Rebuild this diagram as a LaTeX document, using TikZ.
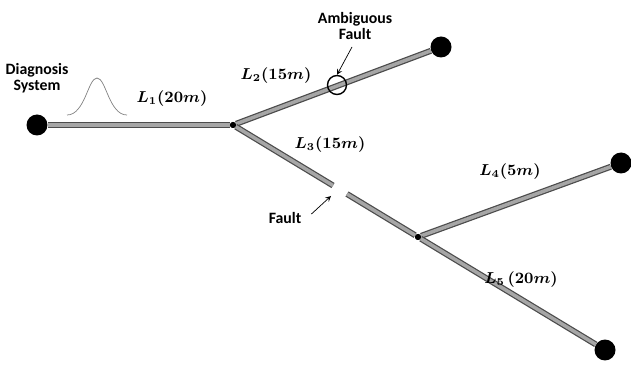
\documentclass[tikz,border=0pt]{standalone}
\usepackage{amsmath, amssymb}
\usepackage{bm}
\usepackage{fontspec}
\setsansfont{Carlito}
\usepackage{tikz}
\usetikzlibrary{quotes}

\begin{document}
\begin{tikzpicture}[x=0.02cm, y=-0.02cm,
    pipe/.style={draw=black!70, double=gray!70, line width=0.7pt, double distance=2pt},
    term/.style={circle, fill=black, inner sep=0pt, minimum size=0.42cm},
    joint/.style={circle, fill=black, inner sep=0pt, minimum size=0.12cm},
    lab/.style={font=\small},
    note/.style={font=\sffamily\bfseries\small, align=center}]

    \useasboundingbox (0,0) rectangle (631,367);

    \node[term]  (src) at (37, 125)   {};
    \node[joint] (j1)  at (233, 125)  {};
    \node[term]  (e2)  at (441, 47)   {};
    \node[joint] (j2)  at (418, 237)  {};
    \node[term]  (e4)  at (621, 163)  {};
    \node[term]  (e5)  at (605, 350)  {};

    \coordinate (gapa) at (333, 185.5);
    \coordinate (gapb) at (347, 194);

    \draw[pipe] (src) -- (j1);
    \draw[pipe] (j1) -- (e2);
    \draw[pipe] (j1) -- (gapa);
    \draw[pipe] (gapb) -- (j2);
    \draw[pipe] (j2) -- (e4);
    \draw[pipe] (j2) -- (e5);
    \node[joint] at (j1) {};
    \node[joint] at (j2) {};

    \node[circle, draw, thick, minimum size=0.38cm, inner sep=0pt] (amb) at (337, 85) {};

    \draw[gray, thin] (67, 115) .. controls (85, 115) and (88, 78) .. (97, 78)
                                .. controls (106, 78) and (109, 115) .. (127, 115);

    \node[note] (diag) at (37, 78)  {Diagnosis\\[-2pt]System};
    \node[note] (ambt) at (355, 26) {Ambiguous\\[-2pt]Fault};
    \node[note] (flt)  at (285, 218) {Fault};

    \draw[-stealth] (352, 47) -- (amb.north);
    \coordinate (fpt) at (331, 196);
    \draw[-stealth] (flt.east) ++(4, -4) -- (fpt);

    \node[lab] (l1) at (172, 99)  {$\bm{L_1(20m)}$};
    \node[lab] (l2) at (276, 76)  {$\bm{L_2(15m)}$};
    \node[lab] (l3) at (330, 145) {$\bm{L_3(15m)}$};
    \node[lab] (l4) at (510, 172) {$\bm{L_4(5m)}$};
    \node[lab] (l5) at (521, 280) {$\bm{L_5\,(20m)}$};
  \end{tikzpicture}
\end{document}
